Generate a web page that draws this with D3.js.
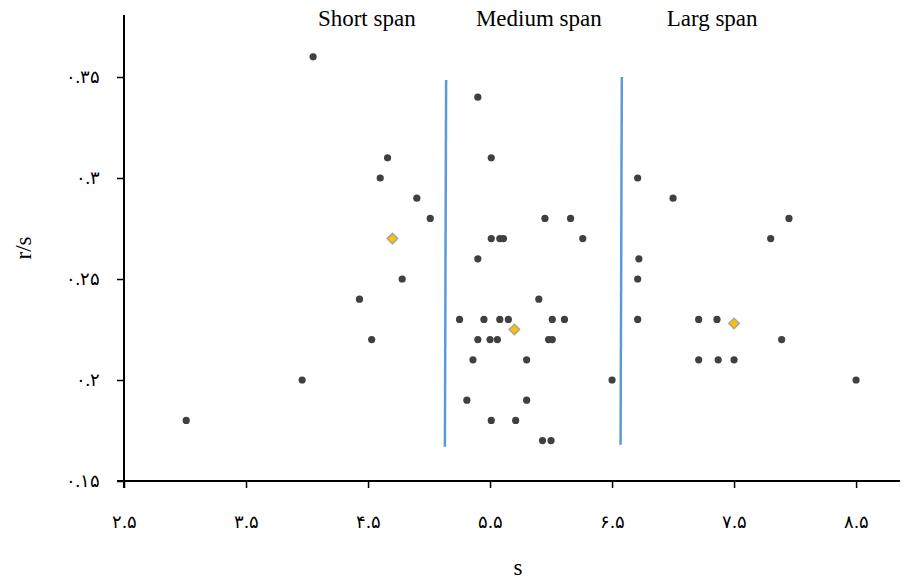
<!DOCTYPE html>
<html>
<head>
<meta charset="utf-8">
<script src="https://cdn.jsdelivr.net/npm/d3@7"></script>
<style>
    body { margin: 0; background: #fff; }
    text { font-family: "Liberation Serif", "Times New Roman", serif; }
</style>
</head>
<body>
<div id="chart"></div>
<script>
// s values and r/s values, one pair per point (short, medium, large span groups)
const shortS  = [4.05, 4.66, 4.60, 4.90, 5.01, 4.78, 4.43, 4.53, 3.96, 3.01];
const shortRS = [0.36, 0.31, 0.30, 0.29, 0.28, 0.25, 0.24, 0.22, 0.20, 0.18];

const mediumS  = [5.40, 5.51, 5.95, 6.16, 5.51, 5.58, 5.61, 6.26, 5.40, 5.90,
                  5.25, 5.45, 5.58, 5.65, 6.01, 6.11,
                  5.40, 5.50, 5.56, 5.98, 6.01,
                  5.36, 5.80, 6.50, 5.31, 5.80, 5.51, 5.71, 5.93, 6.00];
const mediumRS = [0.34, 0.31, 0.28, 0.28, 0.27, 0.27, 0.27, 0.27, 0.26, 0.24,
                  0.23, 0.23, 0.23, 0.23, 0.23, 0.23,
                  0.22, 0.22, 0.22, 0.22, 0.22,
                  0.21, 0.21, 0.20, 0.19, 0.19, 0.18, 0.18, 0.17, 0.17];

const largeS  = [6.71, 7.00, 7.95, 7.80, 6.72, 6.71, 6.71, 7.21, 7.36, 7.89, 7.21, 7.37, 7.50, 8.50];
const largeRS = [0.30, 0.29, 0.28, 0.27, 0.26, 0.25, 0.23, 0.23, 0.23, 0.22, 0.21, 0.21, 0.21, 0.20];

// group means (diamonds)
const meanS  = [4.70, 5.70, 7.50];
const meanRS = [0.27, 0.225, 0.228];

// vertical dividers between groups: [s top, rs top, s bottom, rs bottom]
const dividers = [
    [5.14, 0.3485, 5.13, 0.167],
    [6.58, 0.350, 6.57, 0.168],
];

const spanNames = ['Short span', 'Medium span', 'Larg span'];
const xTicks = [2.5, 3.5, 4.5, 5.5, 6.5, 7.5, 8.5];
const yTicks = [0.15, 0.2, 0.25, 0.3, 0.35];

(function(){
    const margin = {
        top: 15,
        left: 124,
        bottom: 103,
        right: 6,
    }

    const width = 906 - margin.left - margin.right;
    const height = 584 - margin.top - margin.bottom;

    const svg = d3.select('#chart')
        .append('svg')
            .attr('width', width + margin.left + margin.right)
            .attr('height', height + margin.top + margin.bottom)
        .append('g')
            .attr('transform', `translate(${margin.left}, ${margin.top})`)

    const xScale = d3.scaleLinear()
        .domain([2.5, 8.86])
        .range([0, width]);

    const yScale = d3.scaleLinear()
        .domain([0.15, 0.3807])
        .range([height, 0]);

    // western digits -> persian digits
    const fa = v => String(v).replace(/\d/g, d => '۰۱۲۳۴۵۶۷۸۹'[d]);

    const xAxis = d3.axisBottom(xScale)
        .tickValues(xTicks)
        .tickFormat(fa)
        .tickSize(7)
        .tickSizeOuter(0)
        .tickPadding(27);

    const yAxis = d3.axisLeft(yScale)
        .tickValues(yTicks)
        .tickFormat(fa)
        .tickSize(7)
        .tickSizeOuter(0)
        .tickPadding(17);

    const gx = svg.append('g')
            .attr('transform', `translate(0, ${height})`)
        .call(xAxis);

    const gy = svg.append('g')
        .call(yAxis);

    [gx, gy].forEach(g => {
        g.select('.domain').remove();
        g.selectAll('.tick line').attr('stroke', '#000').attr('stroke-width', 1.5);
        g.selectAll('.tick text')
            .attr('fill', '#000')
            .style('font-size', '18px');
    });

    // axis lines (x axis pokes left past the y axis like the ticks do)
    svg.append('line')
        .attr('x1', -7).attr('x2', width)
        .attr('y1', height).attr('y2', height)
        .attr('stroke', '#000')
        .attr('stroke-width', 2);

    svg.append('line')
        .attr('x1', 0).attr('x2', 0)
        .attr('y1', 0).attr('y2', height + 7)
        .attr('stroke', '#000')
        .attr('stroke-width', 2);

    // dividers
    svg.selectAll('.divider')
        .data(dividers)
        .enter().append('line')
            .attr('class', 'divider')
            .attr('x1', d => xScale(d[0]))
            .attr('y1', d => yScale(d[1]))
            .attr('x2', d => xScale(d[2]))
            .attr('y2', d => yScale(d[3]))
            .attr('stroke', '#5B9BD5')
            .attr('stroke-width', 2.5);

    const points = []
        .concat(shortS.map((s, i) => [s, shortRS[i]]))
        .concat(mediumS.map((s, i) => [s, mediumRS[i]]))
        .concat(largeS.map((s, i) => [s, largeRS[i]]));

    svg.selectAll('.dot')
        .data(points)
        .enter().append('circle')
            .attr('class', 'dot')
            .attr('cx', d => xScale(d[0]))
            .attr('cy', d => yScale(d[1]))
            .attr('r', 3.6)
            .attr('fill', '#404040');

    const diamond = d3.symbol().type(d3.symbolDiamond2).size(70);

    svg.selectAll('.mean')
        .data(meanS.map((s, i) => [s, meanRS[i]]))
        .enter().append('path')
            .attr('class', 'mean')
            .attr('d', diamond)
            .attr('transform', d => `translate(${xScale(d[0])}, ${yScale(d[1])})`)
            .attr('fill', '#FFC000')
            .attr('stroke', '#A5A5A5')
            .attr('stroke-width', 1.5);

    // group titles above the plot
    const spanAt = [4.49, 5.90, 7.32];
    svg.selectAll('.span-label')
        .data(spanNames)
        .enter().append('text')
            .attr('class', 'span-label')
            .attr('x', (d, i) => xScale(spanAt[i]))
            .attr('y', 11)
            .attr('text-anchor', 'middle')
            .style('font-size', '23px')
            .text(d => d);

    svg.append('text')
        .attr('x', (width + 12) / 2)
        .attr('y', height + 94)
        .attr('text-anchor', 'middle')
        .style('font-size', '23px')
        .text('s');

    svg.append('text')
        .attr('transform', `translate(${-93}, ${height / 2}) rotate(-90)`)
        .attr('text-anchor', 'middle')
        .style('font-size', '23px')
        .text('r/s');
}())
</script>
</body>
</html>
